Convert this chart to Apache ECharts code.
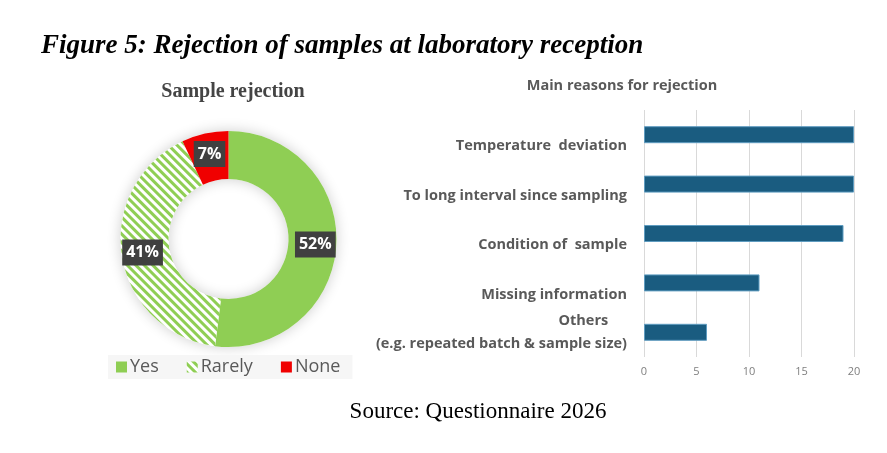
<!DOCTYPE html>
<html>
<head>
<meta charset="utf-8">
<script src="https://cdn.jsdelivr.net/npm/echarts@6/dist/echarts.min.js"></script>
<style>
html,body{margin:0;padding:0;background:#fff;}
#chart{width:887px;height:453px;}
</style>
</head>
<body>
<div id="chart"></div>
<script>
// donut data
var pieNames = ['Yes', 'Rarely', 'None'];
var pieValues = [52, 41, 7];
var pieColors = ['#8fce54', '#ffffff', '#f00000'];

// bar data
var reasons = ['Temperature  deviation', 'To long interval since sampling', 'Condition of  sample', 'Missing information', 'Others     \n(e.g. repeated batch & sample size)'];
var counts = [20, 20, 19, 11, 6];
var xTicks = [0, 5, 10, 15, 20];

var chart = echarts.init(document.getElementById('chart'));

var pieData = [];
for (var i = 0; i < pieNames.length; i++) {
    var item = { name: pieNames[i], value: pieValues[i], itemStyle: { color: pieColors[i] } };
    if (pieNames[i] == 'Rarely') {
        item.itemStyle.decal = {
            symbol: 'rect',
            symbolSize: 1,
            color: '#8fce54',
            dashArrayX: [1, 0],
            dashArrayY: [3, 3],
            rotation: Math.PI / 4
        };
    }
    pieData.push(item);
}

var option = {
    animation: false,
    title: [{
        text: 'Figure 5: Rejection of samples at laboratory reception',
        left: 36, top: 28,
        textStyle: { fontFamily: 'Liberation Serif', fontStyle: 'italic', fontWeight: 'bold', fontSize: 27, color: '#000' }
    }, {
        text: 'Sample rejection',
        left: 228, top: 77, textAlign: 'center',
        textStyle: { fontFamily: 'Liberation Serif', fontWeight: 'bold', fontSize: 20, color: '#444' }
    }, {
        text: 'Main reasons for rejection',
        left: 617, top: 73, textAlign: 'center',
        textStyle: { fontFamily: 'Open Sans', fontWeight: 'bold', fontSize: 14.5, color: '#595959' }
    }, {
        text: 'Source: Questionnaire 2026',
        left: 473, top: 395, textAlign: 'center',
        textStyle: { fontFamily: 'Liberation Serif', fontWeight: 'normal', fontSize: 23, color: '#000' }
    }],
    legend: {
        data: pieNames,
        left: 108, top: 355,
        padding: [3, 12, 3, 8],
        backgroundColor: '#f6f6f6',
        icon: 'rect',
        itemWidth: 11, itemHeight: 11,
        itemGap: 28,
        textStyle: { fontFamily: 'Open Sans', fontSize: 18, color: '#595959', padding: [0, 0, 0, -2] }
    },
    grid: { left: 644, right: 33, top: 110, bottom: 96 },
    xAxis: {
        type: 'value',
        min: xTicks[0], max: xTicks[xTicks.length - 1], interval: 5,
        axisLine: { show: false },
        axisTick: { show: false },
        splitLine: { lineStyle: { color: '#d9d9d9' } },
        axisLabel: { color: '#7f7f7f', fontSize: 11, fontFamily: 'Open Sans', margin: 9 }
    },
    yAxis: {
        type: 'category',
        inverse: true,
        data: reasons,
        axisLine: { show: false },
        axisTick: { show: false },
        axisLabel: {
            interval: 0,
            hideOverlap: false,
            margin: 17,
            color: '#595959',
            fontFamily: 'Open Sans',
            fontWeight: 'bold',
            fontSize: 14.5,
            lineHeight: 23,
            padding: [12, 0, 0, 0],
            formatter: function (v) {
                // labels sit below their bars in the original
                return v.indexOf('\n') >= 0 ? v : '\n' + v;
            }
        }
    },
    series: [{
        // soft glow behind the donut
        type: 'pie',
        silent: true,
        center: [228.5, 239],
        radius: [60, 108],
        z: 1,
        legendHoverLink: false,
        itemStyle: { color: '#ffffff', shadowBlur: 14, shadowColor: 'rgba(0,0,0,0.2)' },
        label: { show: false },
        labelLine: { show: false },
        data: [{ name: '', value: 1 }]
    }, {
        type: 'pie',
        center: [228.5, 239],
        radius: [60, 108],
        z: 2,
        startAngle: 90,
        clockwise: true,
        legendHoverLink: false,
        label: {
            position: 'inside',
            formatter: '{c}%',
            backgroundColor: '#404040',
            color: '#fff',
            fontFamily: 'Open Sans',
            fontWeight: 'bold',
            fontSize: 16,
            padding: [5, 4]
        },
        labelLine: { show: false },
        data: pieData
    }, {
        type: 'bar',
        data: counts,
        barWidth: 17,
        itemStyle: { color: '#1a5c80', borderColor: '#5f9cc0', borderWidth: 1 }
    }]
};

chart.setOption(option);
</script>
</body>
</html>
